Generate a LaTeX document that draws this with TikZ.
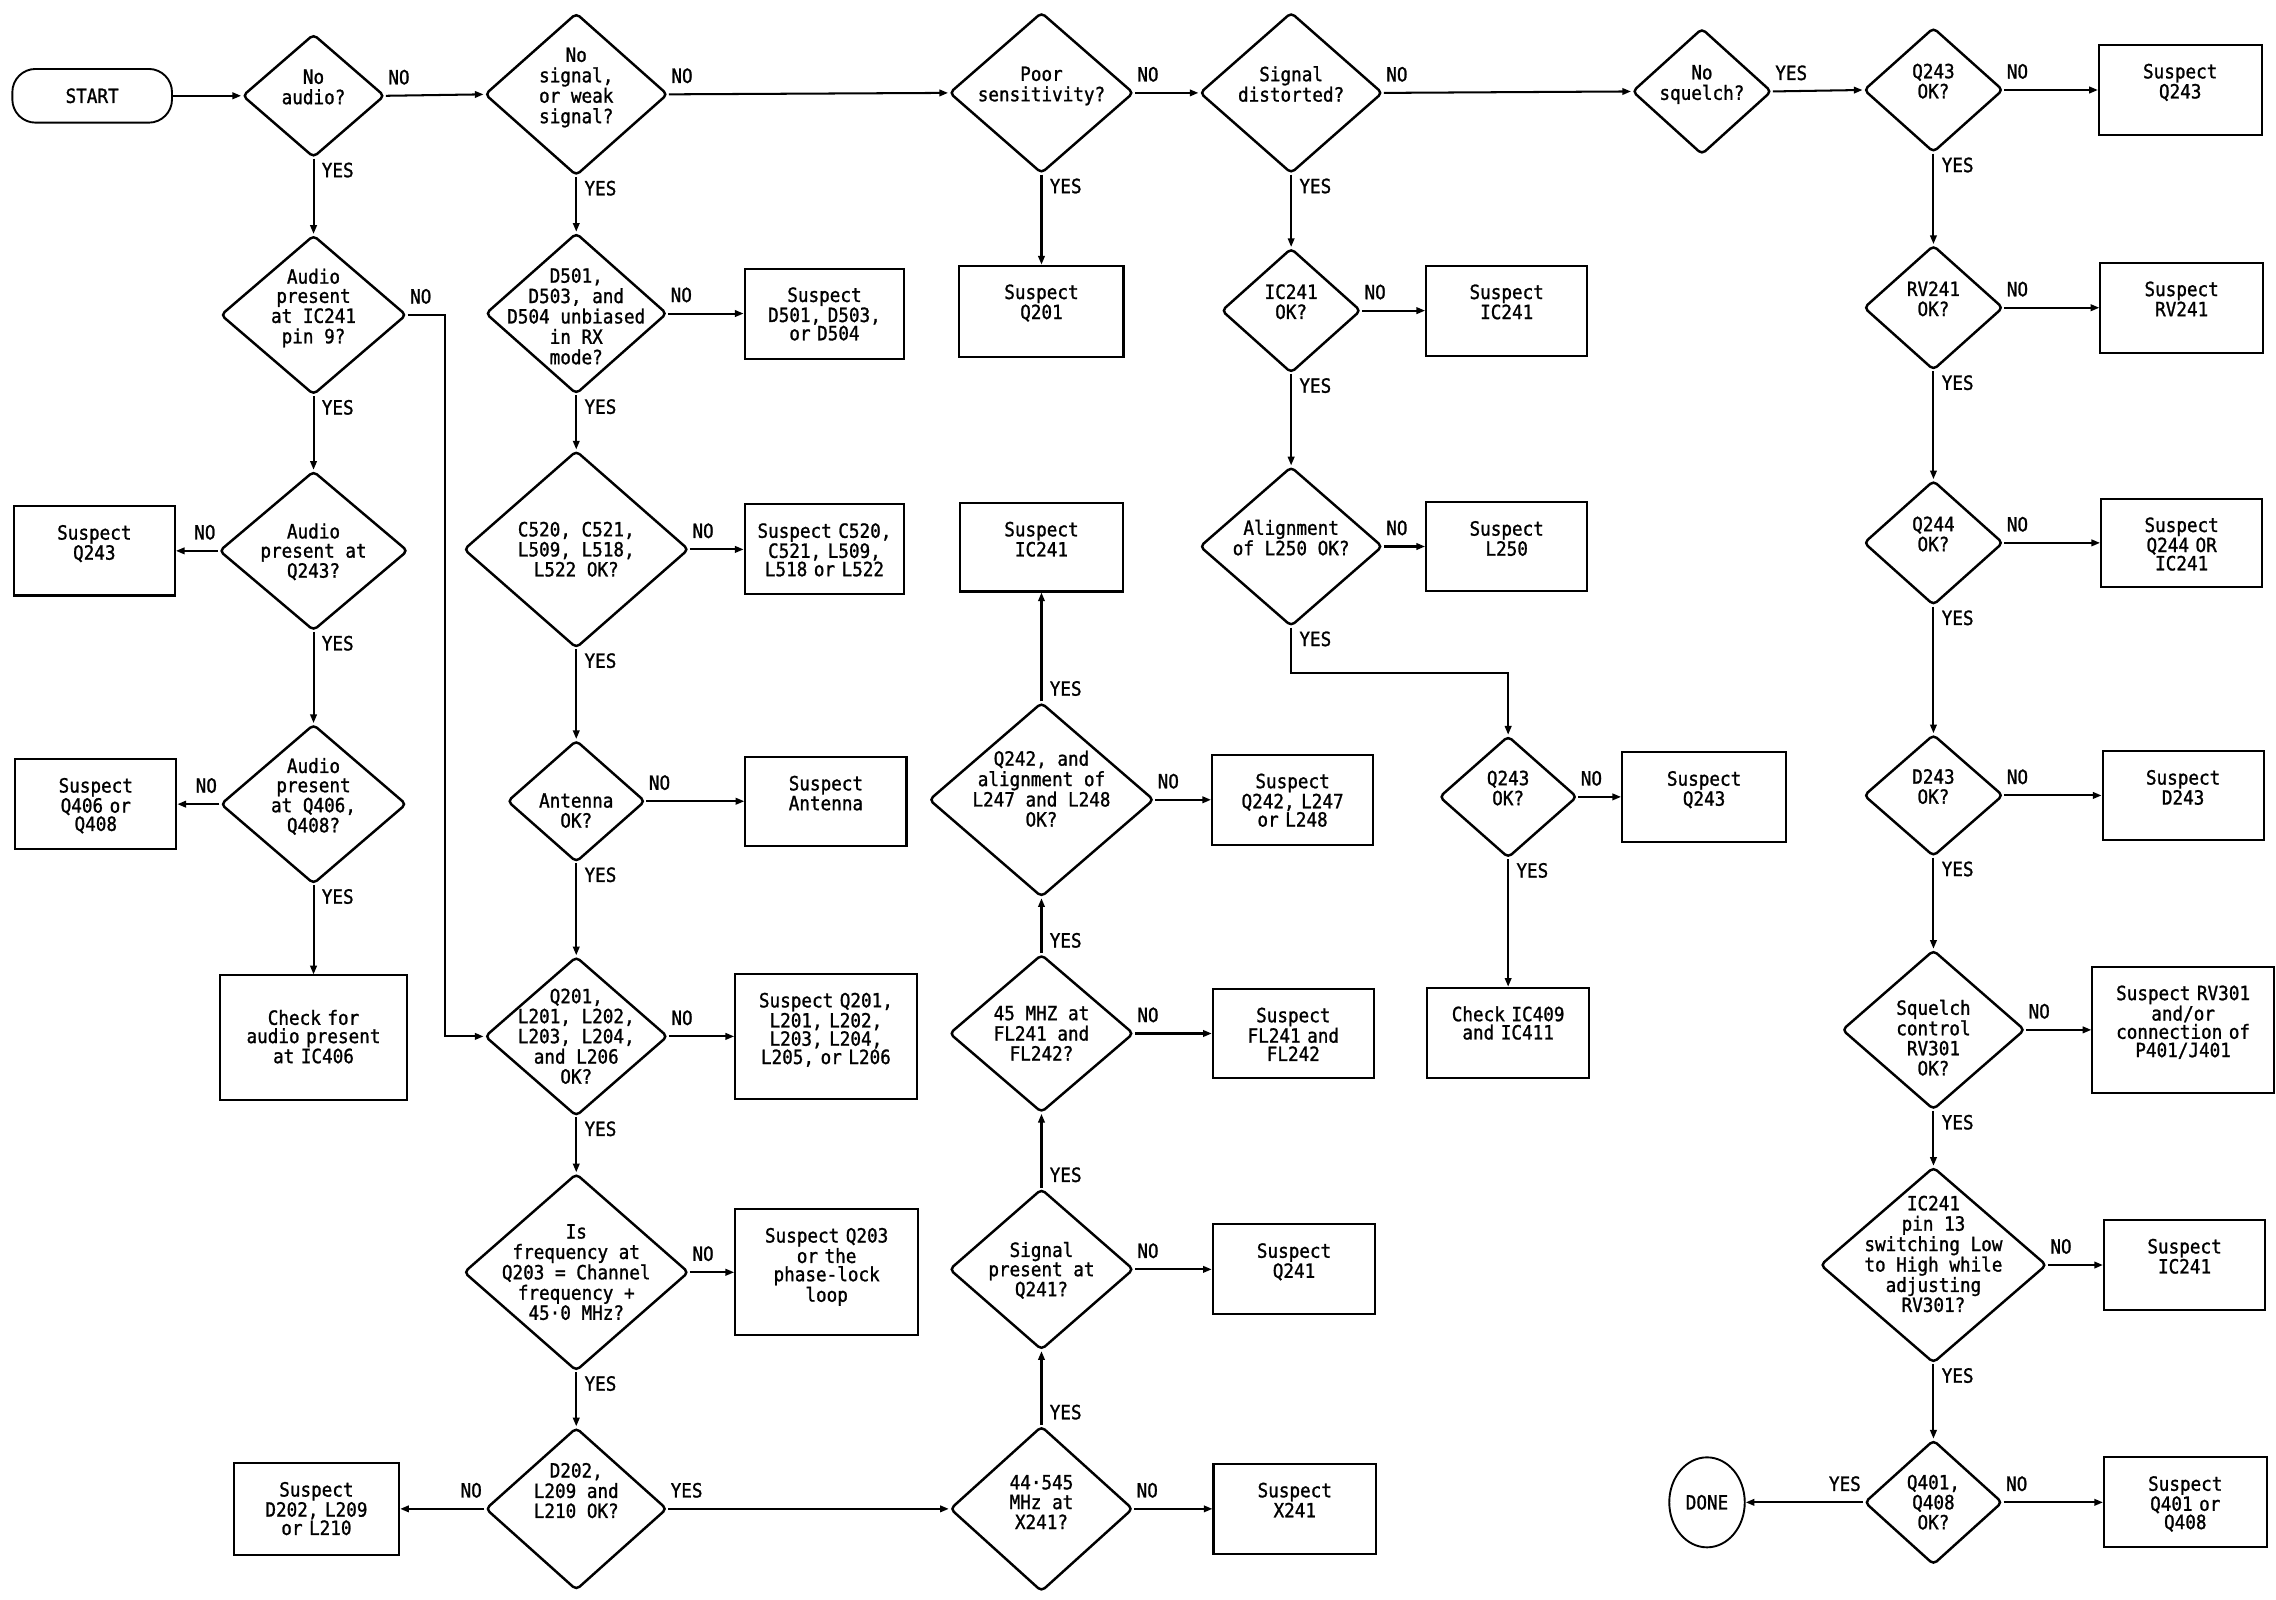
\documentclass[tikz,border=0pt]{standalone}
\usepackage{fontspec}
\setmainfont{DejaVu Sans Mono}[FakeStretch=0.9, FakeBold=1.2]
\usetikzlibrary{arrows.meta,shapes.geometric}

% 菱形框内文字
\newcommand{\ask}[2][6pt]{\raisebox{\dimexpr#1-5.3pt\relax}[0pt][0pt]{\makebox[0pt]{\begin{tabular}{@{}c@{}}#2\end{tabular}}}}

\begin{document}
\begin{tikzpicture}[x=1pt, y=-1pt, font=\fontsize{13.5}{12.6}\selectfont,
    dec/.style 2 args={diamond, draw, line width=1.7pt, rounded corners=3pt,
        inner sep=0pt, minimum width=#1, minimum height=#2},
    box/.style 2 args={draw, line width=1.4pt, inner sep=0pt, align=center,
        text width=#1, text height=23pt, text depth=#2},
    term/.style={draw, line width=1.3pt, rounded corners=16pt, inner sep=0pt,
        minimum width=110, minimum height=37},
    endnode/.style={ellipse, draw, line width=1.3pt, inner sep=0pt,
        minimum width=52, minimum height=62},
    arr/.style={line width=1.4pt, -{Triangle[length=6pt,width=4.5pt]}},
    noR/.style={pos=0, anchor=south west, inner sep=0pt, xshift=1pt, yshift=7pt},
    noL/.style={pos=0, anchor=south east, inner sep=0pt, xshift=-1pt, yshift=7pt},
    yesD/.style={pos=0, anchor=north west, inner sep=0pt, xshift=5pt, yshift=-2pt},
    yesU/.style={pos=0, anchor=south west, inner sep=0pt, xshift=5pt, yshift=3pt}]
    \useasboundingbox (0,0) rectangle (1568,1102);

    % 第一行
    \node[term] (start) at (63.5,66) {START};
    \node[dec={98}{85}] (noaud) at (216,66) {\ask{No\\audio?}};
    \node[dec={126}{112}] (nosig) at (397,65) {\ask{No\\signal,\\or weak\\signal?}};
    \node[dec={127}{111}] (poor) at (717.5,64) {\ask{Poor\\sensitivity?}};
    \node[dec={126}{111}] (dist) at (889.5,64) {\ask{Signal\\distorted?}};
    \node[dec={96}{87}] (nosq) at (1172.5,63) {\ask{No\\squelch?}};
    \node[dec={96}{86}] (q243a) at (1332,62) {\ask{Q243\\OK?}};
    \node[box={112pt}{39pt}] (sq243a) at (1502,62) {Suspect\\Q243};

    % 第一列
    \node[dec={128}{110}] (aud9) at (216,217) {\ask{Audio\\present\\at IC241\\pin 9?}};
    \node[dec={130}{110}] (audq243) at (216,379.5) {\ask[0pt]{Audio\\present at\\Q243?}};
    \node[box={111pt}{38.5pt}] (sq243b) at (65,379.5) {Suspect\\Q243};
    \node[dec={128}{110}] (audq406) at (216,554) {\ask{Audio\\present\\at Q406,\\Q408?}};
    \node[box={111pt}{39pt}] (sq406) at (66,554) {Suspect\\Q406 or\\Q408};
    \node[box={129pt}{52pt}, text height=34pt] (chk406) at (216,715) {Check for\\audio present\\at IC406};

    % 第二列
    \node[dec={125}{111}] (d501) at (397,216) {\ask[-2pt]{D501,\\D503, and\\D504 unbiased\\in RX\\mode?}};
    \node[box={110pt}{39pt}] (sd501) at (568,216) {Suspect\\D501, D503,\\or D504};
    \node[dec={155}{136}] (c520) at (397,378.5) {\ask[0pt]{C520, C521,\\L509, L518,\\L522 OK?}};
    \node[box={110pt}{39pt}] (sc520) at (568,378.5) {Suspect C520,\\C521, L509,\\L518 or L522};
    \node[dec={95}{84}] (ant) at (397,552) {\ask[-6.5pt]{Antenna\\OK?}};
    \node[box={111pt}{38pt}] (sant) at (569,552) {Suspect\\Antenna};
    \node[dec={126}{110}] (q201) at (397,714) {\ask[0pt]{Q201,\\L201, L202,\\L203, L204,\\and L206\\OK?}};
    \node[box={125pt}{63pt}] (sq201) at (569,714) {Suspect Q201,\\L201, L202,\\L203, L204,\\L205, or L206};
    \node[dec={155}{136}] (isfreq) at (397,876.5) {\ask[0pt]{Is\\frequency at\\Q203 = Channel\\frequency +\\45·0 MHz?}};
    \node[box={126pt}{64pt}] (sq203) at (569.5,876.5) {Suspect Q203\\or the\\phase-lock\\loop};
    \node[dec={125}{112}] (d202) at (397,1039.5) {\ask[12.5pt]{D202,\\L209 and\\L210 OK?}};
    \node[box={114pt}{40pt}] (sd202) at (218,1039.5) {Suspect\\D202, L209\\or L210};

    % 第三列
    \node[box={113pt}{40pt}] (sq201c) at (717.5,214.5) {Suspect\\Q201};
    \node[box={112pt}{38pt}] (sic241c) at (717.5,377) {Suspect\\IC241};
    \node[dec={155}{134}] (q242) at (717.5,551) {\ask[7.5pt]{Q242, and\\alignment of\\L247 and L248\\OK?}};
    \node[box={111pt}{39pt}] (sq242) at (890.5,551) {Suspect\\Q242, L247\\or L248};
    \node[dec={127}{109}] (mhz45) at (717.5,712) {\ask[0pt]{45 MHZ at\\FL241 and\\FL242?}};
    \node[box={111pt}{38.5pt}] (sfl) at (891,712) {Suspect\\FL241 and\\FL242};
    \node[dec={127}{111}] (sig241) at (717.5,874.5) {\ask[0pt]{Signal\\present at\\Q241?}};
    \node[box={112pt}{39pt}] (sq241) at (891.5,874.5) {Suspect\\Q241};
    \node[dec={126}{114}] (xtal) at (717.5,1039.5) {\ask[4.5pt]{44·545\\MHz at\\X241?}};
    \node[box={112pt}{39pt}] (sx241) at (892,1039.5) {Suspect\\X241};

    % 第四列
    \node[dec={96}{86}] (ic241ok) at (889.5,214) {\ask{IC241\\OK?}};
    \node[box={111pt}{39pt}] (sic241d) at (1038,214) {Suspect\\IC241};
    \node[dec={126}{110}] (l250) at (889.5,376.5) {\ask{Alignment\\of L250 OK?}};
    \node[box={111pt}{38pt}] (sl250) at (1038,376.5) {Suspect\\L250};
    \node[dec={95}{84}] (q243b) at (1039,549) {\ask{Q243\\OK?}};
    \node[box={113pt}{38.5pt}] (sq243c) at (1174,549) {Suspect\\Q243};
    \node[box={112pt}{39pt}] (chk409) at (1039,711.5) {Check IC409\\and IC411};

    % 右侧一列
    \node[dec={96}{86}] (rv241) at (1332,212) {\ask{RV241\\OK?}};
    \node[box={112pt}{39pt}] (srv241) at (1503,212) {Suspect\\RV241};
    \node[dec={96}{86}] (q244) at (1332,374) {\ask{Q244\\OK?}};
    \node[box={111pt}{38pt}] (sq244) at (1503,374) {Suspect\\Q244 OR\\IC241};
    \node[dec={96}{84}] (d243) at (1332,548) {\ask{D243\\OK?}};
    \node[box={111pt}{38pt}] (sd243) at (1504,548) {Suspect\\D243};
    \node[dec={126}{110}] (squ) at (1332,709.5) {\ask[-5.5pt]{Squelch\\control\\RV301\\OK?}};
    \node[box={125pt}{64pt}] (srv301) at (1504,709.5) {Suspect RV301\\and/or\\connection of\\P401/J401};
    \node[dec={156}{135}] (pin13) at (1332,871.5) {\ask[7.5pt]{IC241\\pin 13\\switching Low\\to High while\\adjusting\\RV301?}};
    \node[box={111pt}{39pt}] (sic241e) at (1505,871.5) {Suspect\\IC241};
    \node[dec={95}{86}] (q401) at (1332,1035) {\ask[0pt]{Q401,\\Q408\\OK?}};
    \node[box={112pt}{39pt}] (sq401) at (1505.5,1035) {Suspect\\Q401 or\\Q408};
    \node[endnode] (done) at (1176,1035) {DONE};

    % 连线：第一行
    \draw[arr] (start.east) -- (noaud.west);
    \draw[arr] (noaud.east) -- node[noR] (n1) {NO} (nosig.west);
    \draw[arr] (nosig.east) -- node[noR] (n2) {NO} (poor.west);
    \draw[arr] (poor.east) -- node[noR] (n3) {NO} (dist.west);
    \draw[arr] (dist.east) -- node[noR] (n4) {NO} (nosq.west);
    \draw[arr] (nosq.east) -- node[noR] (y1) {YES} (q243a.west);
    \draw[arr] (q243a.east) -- node[noR] (n5) {NO} (sq243a.west);

    % 连线：第一列
    \draw[arr] (noaud.south) -- node[yesD] (y2) {YES} (aud9.north);
    \draw[arr] (aud9.east) -- node[noR] (n6) {NO} ++(26,0) |- (q201.west);
    \draw[arr] (aud9.south) -- node[yesD] (y3) {YES} (audq243.north);
    \draw[arr] (audq243.west) -- node[noL] (n7) {NO} (sq243b.east);
    \draw[arr] (audq243.south) -- node[yesD] (y4) {YES} (audq406.north);
    \draw[arr] (audq406.west) -- node[noL] (n8) {NO} (sq406.east);
    \draw[arr] (audq406.south) -- node[yesD] (y5) {YES} (chk406.north);

    % 连线：第二列
    \draw[arr] (nosig.south) -- node[yesD] (y6) {YES} (d501.north);
    \draw[arr] (d501.east) -- node[noR] (n9) {NO} (sd501.west);
    \draw[arr] (d501.south) -- node[yesD] (y7) {YES} (c520.north);
    \draw[arr] (c520.east) -- node[noR] (n10) {NO} (sc520.west);
    \draw[arr] (c520.south) -- node[yesD] (y8) {YES} (ant.north);
    \draw[arr] (ant.east) -- node[noR] (n11) {NO} (sant.west);
    \draw[arr] (ant.south) -- node[yesD] (y9) {YES} (q201.north);
    \draw[arr] (q201.east) -- node[noR] (n12) {NO} (sq201.west);
    \draw[arr] (q201.south) -- node[yesD] (y10) {YES} (isfreq.north);
    \draw[arr] (isfreq.east) -- node[noR] (n13) {NO} (sq203.west);
    \draw[arr] (isfreq.south) -- node[yesD] (y11) {YES} (d202.north);
    \draw[arr] (d202.west) -- node[noL] (n14) {NO} (sd202.east);
    \draw[arr] (d202.east) -- node[noR] (y12) {YES} (xtal.west);

    % 连线：第三列
    \draw[arr] (poor.south) -- node[yesD] (y13) {YES} (sq201c.north);
    \draw[arr] (xtal.east) -- node[noR] (n15) {NO} (sx241.west);
    \draw[arr] (xtal.north) -- node[yesU] (y14) {YES} (sig241.south);
    \draw[arr] (sig241.east) -- node[noR] (n16) {NO} (sq241.west);
    \draw[arr] (sig241.north) -- node[yesU] (y15) {YES} (mhz45.south);
    \draw[arr] (mhz45.east) -- node[noR] (n17) {NO} (sfl.west);
    \draw[arr] (mhz45.north) -- node[yesU] (y16) {YES} (q242.south);
    \draw[arr] (q242.east) -- node[noR] (n18) {NO} (sq242.west);
    \draw[arr] (q242.north) -- node[yesU] (y17) {YES} (sic241c.south);

    % 连线：第四列
    \draw[arr] (dist.south) -- node[yesD] (y18) {YES} (ic241ok.north);
    \draw[arr] (ic241ok.east) -- node[noR] (n19) {NO} (sic241d.west);
    \draw[arr] (ic241ok.south) -- node[yesD] (y19) {YES} (l250.north);
    \draw[arr] (l250.east) -- node[noR] (n20) {NO} (sl250.west);
    \draw[arr] (l250.south) -- node[yesD] (y20) {YES} ++(0,31) -| (q243b.north);
    \draw[arr] (q243b.east) -- node[noR] (n21) {NO} (sq243c.west);
    \draw[arr] (q243b.south) -- node[yesD] (y21) {YES} (chk409.north);

    % 连线：右侧一列
    \draw[arr] (q243a.south) -- node[yesD] (y22) {YES} (rv241.north);
    \draw[arr] (rv241.east) -- node[noR] (n22) {NO} (srv241.west);
    \draw[arr] (rv241.south) -- node[yesD] (y23) {YES} (q244.north);
    \draw[arr] (q244.east) -- node[noR] (n23) {NO} (sq244.west);
    \draw[arr] (q244.south) -- node[yesD] (y24) {YES} (d243.north);
    \draw[arr] (d243.east) -- node[noR] (n24) {NO} (sd243.west);
    \draw[arr] (d243.south) -- node[yesD] (y25) {YES} (squ.north);
    \draw[arr] (squ.east) -- node[noR] (n25) {NO} (srv301.west);
    \draw[arr] (squ.south) -- node[yesD] (y26) {YES} (pin13.north);
    \draw[arr] (pin13.east) -- node[noR] (n26) {NO} (sic241e.west);
    \draw[arr] (pin13.south) -- node[yesD] (y27) {YES} (q401.north);
    \draw[arr] (q401.east) -- node[noR] (n27) {NO} (sq401.west);
    \draw[arr] (q401.west) -- node[noL] (y28) {YES} (done.east);
\end{tikzpicture}
\end{document}
